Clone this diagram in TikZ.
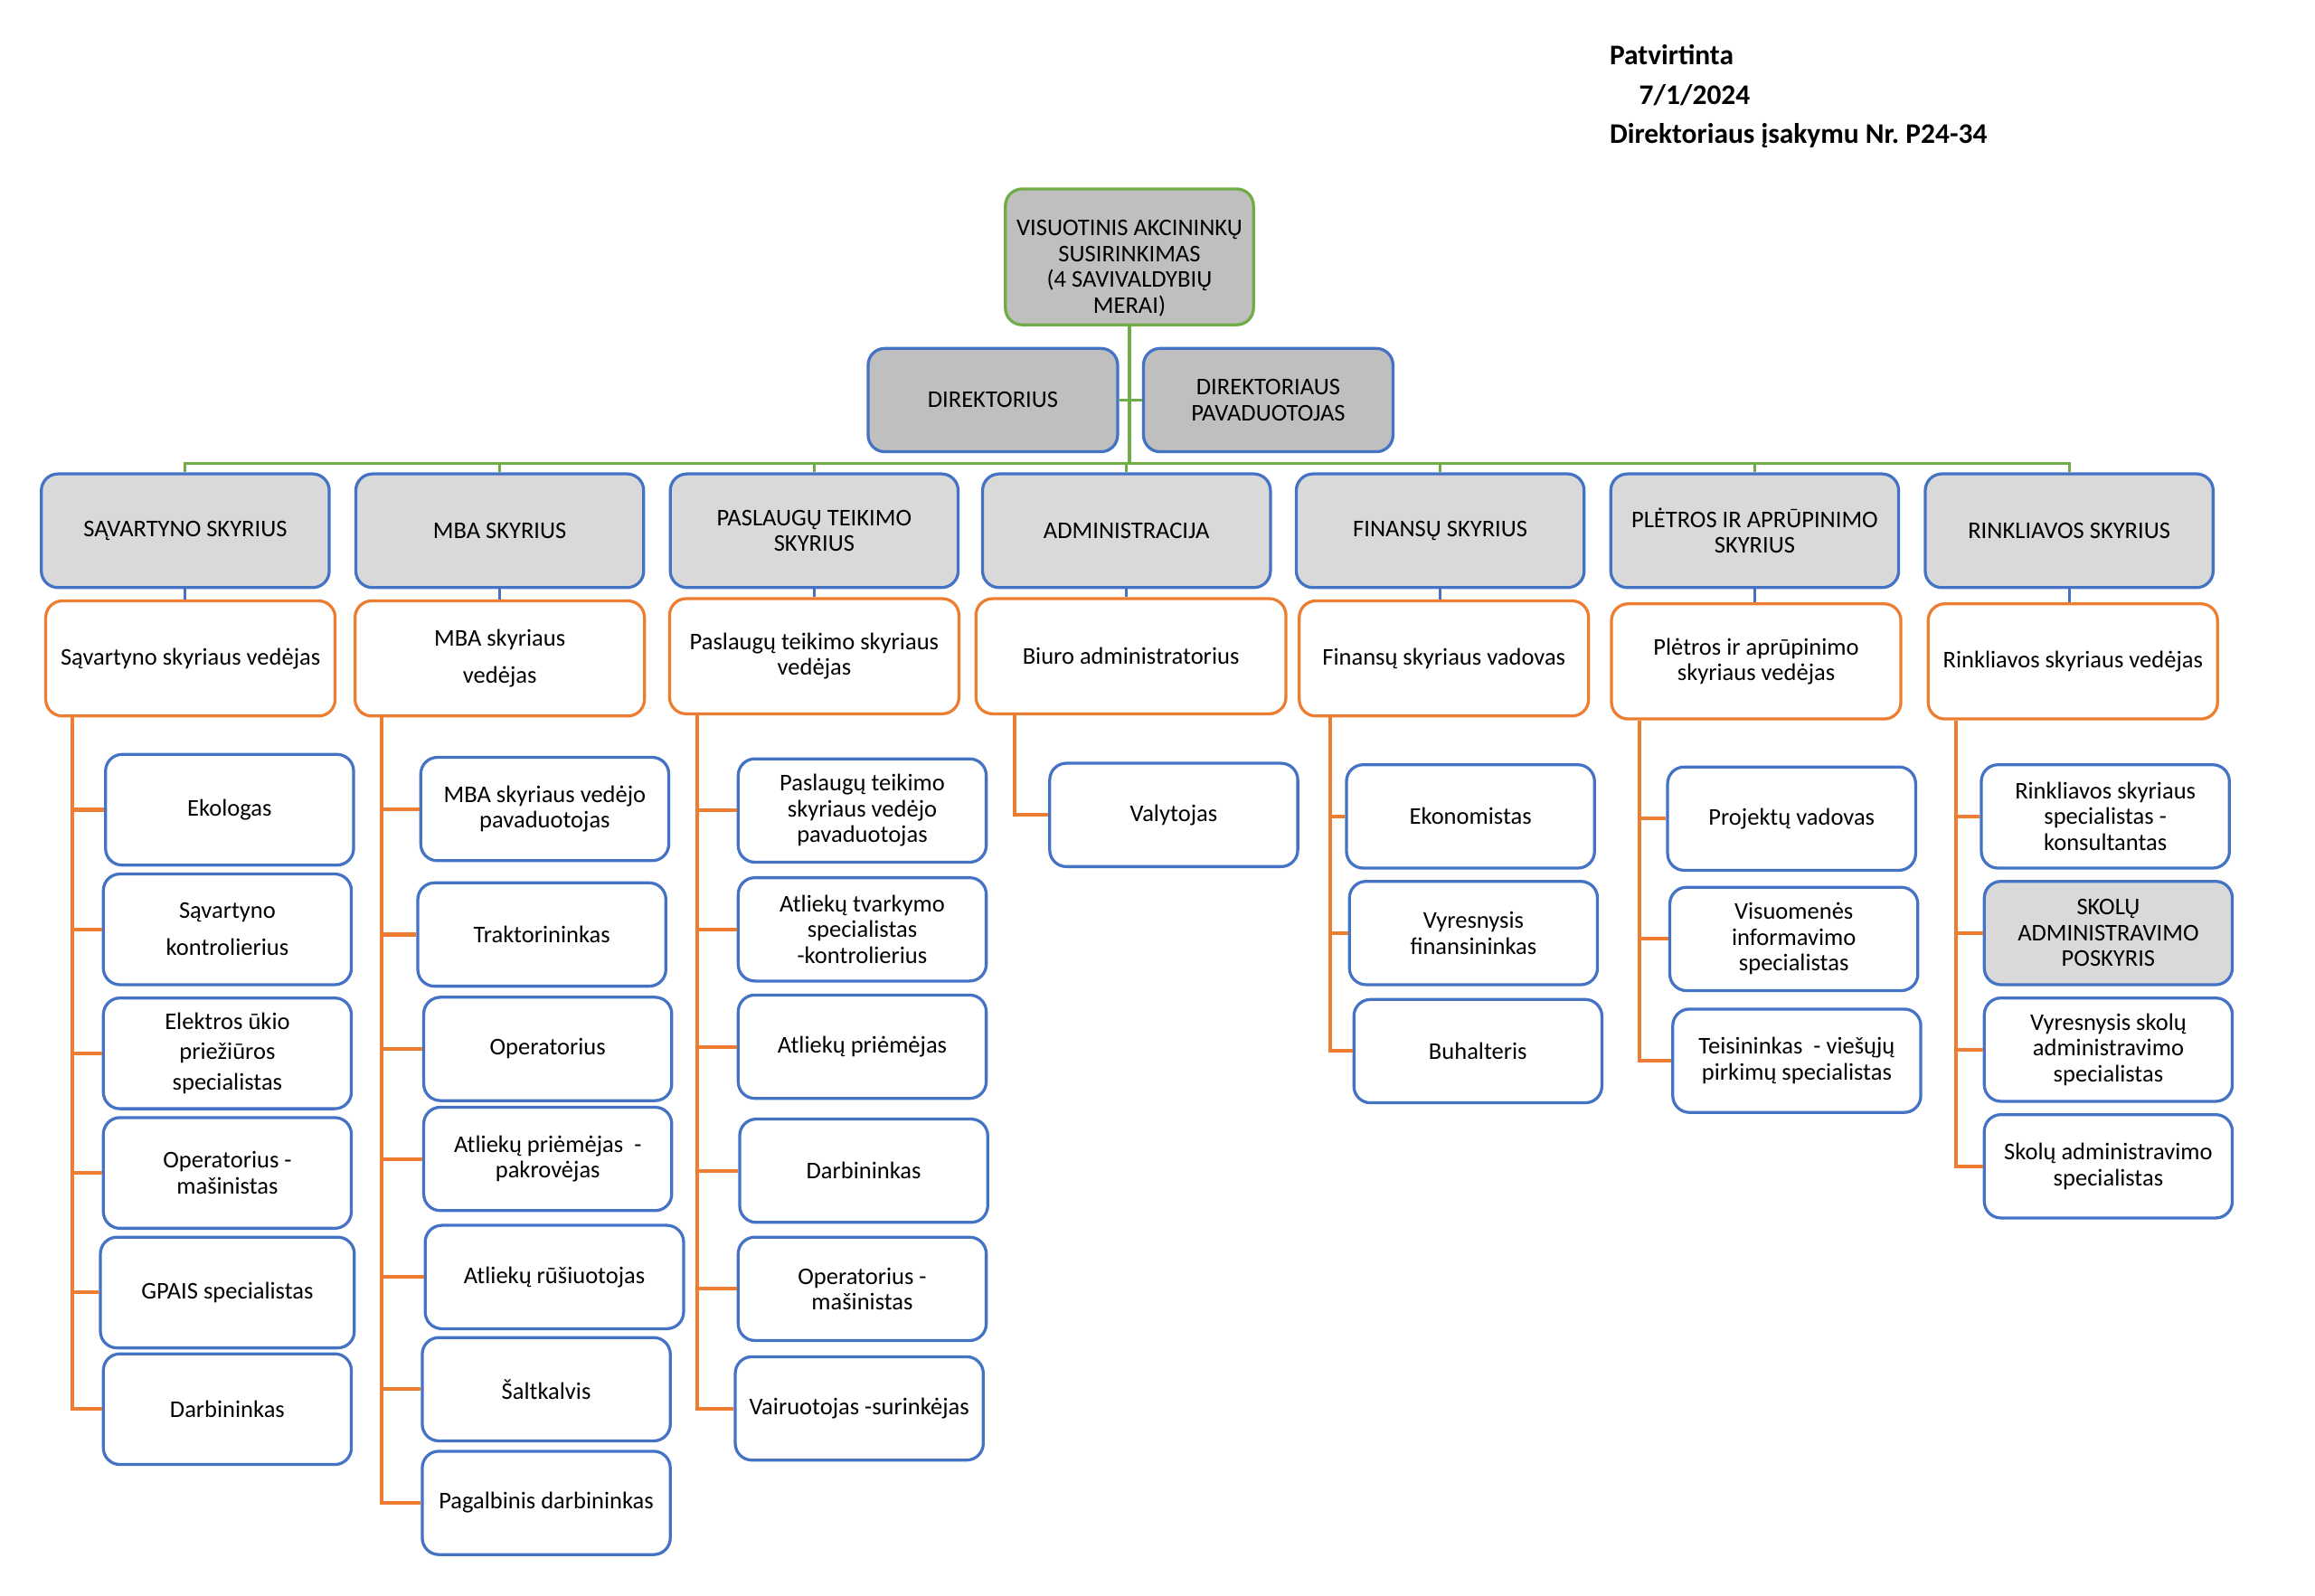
\documentclass[tikz,border=0pt]{standalone}
\usepackage{fontspec}
\setmainfont{Carlito}
\usepackage{tikz}
\usepackage{color}

\definecolor{grnline}{RGB}{112,173,71}
\definecolor{bluline}{RGB}{68,114,196}
\definecolor{orgline}{RGB}{237,125,49}
\definecolor{grayA}{RGB}{191,191,191}
\definecolor{grayB}{RGB}{217,217,217}

\begin{document}
\begin{tikzpicture}[x=0.8pt,y=0.8pt,yscale=-1,xscale=1,
  font=\fontsize{13}{14}\selectfont,
  box/.style={rounded corners=9pt, line width=1.6pt, align=center, inner sep=2pt},
  topbox/.style={box, draw=grnline, fill=grayA, minimum width=134.4pt, minimum height=73.6pt},
  dirbox/.style={box, draw=bluline, fill=grayA, minimum width=135.2pt, minimum height=56pt},
  deptbox/.style={box, draw=bluline, fill=grayB, minimum width=156pt, minimum height=61.6pt},
  headbox/.style={box, draw=orgline, fill=white, minimum width=156.8pt, minimum height=62.4pt},
  jobbox/.style={box, draw=bluline, fill=white, minimum width=134.4pt, minimum height=56pt},
  subbox/.style={jobbox, fill=grayB},
  busline/.style={draw=grnline, line width=1.5pt},
  stemline/.style={draw=bluline, line width=1.5pt},
  treeline/.style={draw=orgline, line width=2pt},
  notetext/.style={anchor=base west, inner sep=0pt, font=\fontsize{15.4}{18}\selectfont\bfseries}]
\useasboundingbox (0,0) rectangle (1568,1081);

% Text Node
\node[notetext] (note1) at (1090,44) {Patvirtinta};
\node[notetext] (note2) at (1110,70.5) {7/1/2024};
\node[notetext] (note3) at (1090,97) {Direktoriaus įsakymu Nr.\ P24-34};

%Shape: top level
\node[topbox] (top) at (765,174) {\rule{0pt}{21pt}VISUOTINIS AKCININKŲ\\SUSIRINKIMAS\\(4 SAVIVALDYBIŲ\\MERAI)};
\node[dirbox] (dir) at (672.5,271) {DIREKTORIUS};
\node[dirbox] (dep) at (859,271) {DIREKTORIAUS\\PAVADUOTOJAS};

%Shape: departments
\node[deptbox] (d1) at (125.5,359.5) {SĄVARTYNO SKYRIUS};
\node[deptbox] (d2) at (338.5,359.5) {MBA SKYRIUS};
\node[deptbox] (d3) at (551.5,359.5) {PASLAUGŲ TEIKIMO\\SKYRIUS};
\node[deptbox] (d4) at (763,359.5) {ADMINISTRACIJA};
\node[deptbox] (d5) at (975.5,359.5) {FINANSŲ SKYRIUS};
\node[deptbox] (d6) at (1188.5,359.5) {PLĖTROS IR APRŪPINIMO\\SKYRIUS};
\node[deptbox] (d7) at (1401.5,359.5) {RINKLIAVOS SKYRIUS};

%Shape: heads
\node[headbox] (h1) at (129,446) {Sąvartyno skyriaus vedėjas};
\node[headbox] (h2) at (338.5,446) {MBA skyriaus\\[6pt]vedėjas};
\node[headbox] (h3) at (551.5,444.5) {Paslaugų teikimo skyriaus\\vedėjas};
\node[headbox, minimum width=168pt] (h4) at (766,444.5) {Biuro administratorius};
\node[headbox] (h5) at (978,446) {Finansų skyriaus vadovas};
\node[headbox] (h6) at (1189.5,448) {Plėtros ir aprūpinimo\\skyriaus vedėjas};
\node[headbox] (h7) at (1404,448) {Rinkliavos skyriaus vedėjas};

%Shape: column 1
\node[jobbox, minimum height=60pt] (j1a) at (155.5,548.5) {Ekologas};
\node[jobbox, minimum height=60pt] (j1b) at (154,629.5) {Sąvartyno\\[6pt]kontrolierius};
\node[jobbox, minimum height=60pt] (j1c) at (154,713.5) {Elektros ūkio\\[2.5pt]priežiūros\\[2.5pt]specialistas};
\node[jobbox, minimum height=60pt] (j1d) at (154,794.5) {Operatorius -\\mašinistas};
\node[jobbox, minimum height=60pt, minimum width=137.6pt] (j1e) at (154,875.5) {GPAIS specialistas};
\node[jobbox, minimum height=60pt] (j1f) at (154,954.5) {Darbininkas};

%Shape: column 2
\node[jobbox] (j2a) at (369,548) {MBA skyriaus vedėjo\\pavaduotojas};
\node[jobbox] (j2b) at (367,633) {Traktorininkas};
\node[jobbox] (j2c) at (371,710.5) {Operatorius};
\node[jobbox] (j2d) at (371,785) {Atliekų priėmėjas \ -\\pakrovėjas};
\node[jobbox, minimum width=140pt] (j2e) at (375.5,865) {Atliekų rūšiuotojas};
\node[jobbox] (j2f) at (370,941) {Šaltkalvis};
\node[jobbox] (j2g) at (370,1018) {Pagalbinis darbininkas};

%Shape: column 3
\node[jobbox] (j3a) at (584,549) {Paslaugų teikimo\\skyriaus vedėjo\\pavaduotojas};
\node[jobbox] (j3b) at (584,629.5) {Atliekų tvarkymo\\specialistas\\-kontrolierius};
\node[jobbox] (j3c) at (584,709) {Atliekų priėmėjas};
\node[jobbox] (j3d) at (585,793) {Darbininkas};
\node[jobbox] (j3e) at (584,873) {Operatorius -\\mašinistas};
\node[jobbox] (j3f) at (582,954) {Vairuotojas -surinkėjas};

%Shape: column 4
\node[jobbox] (j4a) at (795,552) {Valytojas};

%Shape: column 5
\node[jobbox] (j5a) at (996,553) {Ekonomistas};
\node[jobbox] (j5b) at (998,632) {Vyresnysis\\finansininkas};
\node[jobbox] (j5c) at (1001,712) {Buhalteris};

%Shape: column 6
\node[jobbox] (j6a) at (1213.5,554.5) {Projektų vadovas};
\node[jobbox] (j6b) at (1215,636) {Visuomenės\\informavimo\\specialistas};
\node[jobbox] (j6c) at (1217,718.5) {Teisininkas \ - viešųjų\\pirkimų specialistas};

%Shape: column 7
\node[jobbox] (j7a) at (1426,553) {Rinkliavos skyriaus\\specialistas -\\konsultantas};
\node[subbox] (j7b) at (1428,632) {SKOLŲ\\ADMINISTRAVIMO\\POSKYRIS};
\node[jobbox] (j7c) at (1428,711) {Vyresnysis skolų\\administravimo\\specialistas};
\node[jobbox] (j7d) at (1428,790) {Skolų administravimo\\specialistas};

%Straight Lines: green bus
\coordinate (bus) at (765,314);
\draw[busline] (top.south) -- (bus);
\draw[busline] (dir.east) -- (dep.west);
\foreach \d in {d1,d2,d3,d4,d5,d6,d7}
  \draw[busline] (bus) -| (\d.north);

%Straight Lines: department to head
\foreach \i in {1,...,7}
  \draw[stemline] (d\i.south) -- (d\i.south |- h\i.north);

%Straight Lines: orange trees
\foreach \c in {a,b,c,d,e,f}
  \draw[treeline] ([xshift=15.2pt]h1.south west) |- (j1\c.west);
\foreach \c in {a,b,c,d,e,f,g}
  \draw[treeline] ([xshift=15.2pt]h2.south west) |- (j2\c.west);
\foreach \c in {a,b,c,d,e,f}
  \draw[treeline] ([xshift=16pt]h3.south west) |- (j3\c.west);
\draw[treeline] ([xshift=21.6pt]h4.south west) |- (j4a.west);
\foreach \c in {a,b,c}
  \draw[treeline] ([xshift=17.6pt]h5.south west) |- (j5\c.west);
\foreach \c in {a,b,c}
  \draw[treeline] ([xshift=16pt]h6.south west) |- (j6\c.west);
\foreach \c in {a,b,c,d}
  \draw[treeline] ([xshift=16pt]h7.south west) |- (j7\c.west);

\end{tikzpicture}
\end{document}
